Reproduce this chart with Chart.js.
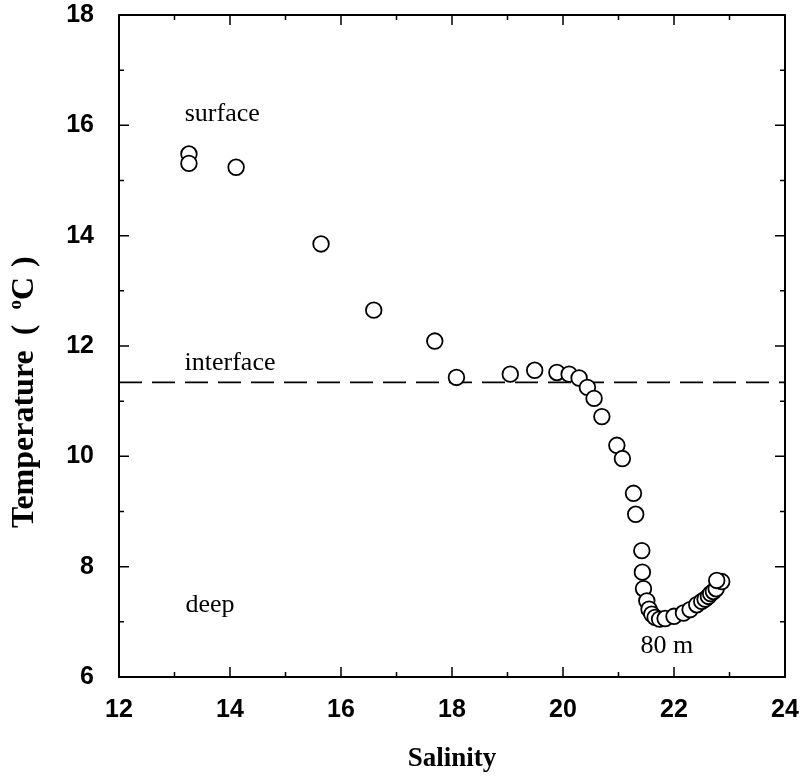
<!DOCTYPE html>
<html>
<head>
<meta charset="utf-8">
<script src="https://cdn.jsdelivr.net/npm/chart.js@4"></script>
<style>
  html, body { margin: 0; padding: 0; background: #fff; }
  canvas { display: block; }
</style>
</head>
<body>
<canvas id="tsChart" width="802" height="778"></canvas>
<script>
// T-S profile, surface to 80 m
const salinity = [13.26, 13.26, 14.11, 15.64, 16.59, 17.69, 18.08, 19.05, 19.49, 19.89,
    20.11, 20.29, 20.44, 20.56, 20.70, 20.97, 21.07, 21.27, 21.31, 21.42,
    21.43, 21.45, 21.51, 21.55, 21.60, 21.66, 21.74, 21.84, 22.00, 22.17,
    22.29, 22.41, 22.50, 22.56, 22.62, 22.66, 22.71, 22.76, 22.86, 22.77];
const temperature = [15.48, 15.31, 15.24, 13.85, 12.65, 12.09, 11.43, 11.49, 11.56, 11.52,
    11.49, 11.42, 11.25, 11.05, 10.72, 10.20, 9.96, 9.33, 8.95, 8.29,
    7.90, 7.60, 7.38, 7.23, 7.14, 7.08, 7.05, 7.06, 7.10, 7.16,
    7.22, 7.31, 7.37, 7.41, 7.46, 7.51, 7.55, 7.60, 7.73, 7.75];

const interfaceTemp = 11.34;
const xRange = [12, 24];
const yRange = [6, 18];

const noteText = ['surface', 'interface', 'deep', '80 m'];
const noteX = [13.86, 14.0, 13.64, 21.87];
const noteY = [16.2, 11.69, 7.3, 6.55];

const points = salinity.map((s, i) => ({ x: s, y: temperature[i] }));

// y title drawn by hand so the degree sign can sit as a superscript "o"
function drawYTitle(ctx) {
    const big = 'bold 32px "Liberation Serif"';
    const small = 'bold 19px "Liberation Serif"';
    ctx.save();
    ctx.translate(33, 528);
    ctx.rotate(-Math.PI / 2);
    ctx.fillStyle = '#000';
    ctx.textBaseline = 'alphabetic';
    ctx.textAlign = 'left';
    let pos = 0;
    ctx.font = big;
    ctx.fillText('Temperature', pos, 0);
    pos += ctx.measureText('Temperature').width + 15;
    ctx.fillText('(', pos, 0);
    pos += ctx.measureText('(').width + 15;
    ctx.font = small;
    ctx.fillText('o', pos, -12);
    pos += ctx.measureText('o').width;
    ctx.font = big;
    ctx.fillText('C', pos, 0);
    pos += ctx.measureText('C').width + 10;
    ctx.fillText(')', pos, 0);
    ctx.restore();
}

// frame, inward ticks on all sides, text notes
const framePlugin = {
    id: 'frame',
    afterDraw(chart) {
        const { ctx, chartArea: a, scales: { x, y } } = chart;
        ctx.save();
        ctx.strokeStyle = '#000';
        ctx.lineWidth = 2;
        ctx.strokeRect(a.left, a.top, a.right - a.left, a.bottom - a.top);

        ctx.lineWidth = 1.5;
        ctx.beginPath();
        for (let v = xRange[0] + 1; v < xRange[1]; v++) {
            const len = v % 2 === 0 ? 10 : 5;
            const px = x.getPixelForValue(v);
            ctx.moveTo(px, a.bottom); ctx.lineTo(px, a.bottom - len);
            ctx.moveTo(px, a.top); ctx.lineTo(px, a.top + len);
        }
        for (let v = yRange[0] + 1; v < yRange[1]; v++) {
            const len = v % 2 === 0 ? 10 : 5;
            const py = y.getPixelForValue(v);
            ctx.moveTo(a.left, py); ctx.lineTo(a.left + len, py);
            ctx.moveTo(a.right, py); ctx.lineTo(a.right - len, py);
        }
        ctx.stroke();

        ctx.fillStyle = '#000';
        ctx.font = '26px "Liberation Serif"';
        ctx.textAlign = 'center';
        ctx.textBaseline = 'middle';
        noteText.forEach((t, i) => {
            ctx.fillText(t, x.getPixelForValue(noteX[i]), y.getPixelForValue(noteY[i]));
        });
        ctx.restore();

        drawYTitle(ctx);
    }
};

function noPad(scale) {
    scale.paddingLeft = 0;
    scale.paddingRight = 0;
    scale.paddingTop = 0;
    scale.paddingBottom = 0;
}

new Chart(document.getElementById('tsChart'), {
    type: 'scatter',
    data: {
        datasets: [
            {
                type: 'line',
                data: [{ x: xRange[0], y: interfaceTemp }, { x: xRange[1], y: interfaceTemp }],
                borderColor: '#000',
                borderWidth: 1.6,
                borderDash: [23, 10],
                pointRadius: 0,
                fill: false,
                order: 2
            },
            {
                data: points,
                pointStyle: 'circle',
                pointRadius: 7.8,
                pointBorderWidth: 1.8,
                pointBackgroundColor: '#fff',
                pointBorderColor: '#000',
                showLine: false,
                order: 1
            }
        ]
    },
    options: {
        responsive: false,
        animation: false,
        layout: { padding: { top: 15, right: 17, left: 0, bottom: 0 } },
        plugins: {
            legend: { display: false },
            tooltip: { enabled: false }
        },
        scales: {
            x: {
                type: 'linear',
                min: xRange[0], max: xRange[1],
                grid: { display: false },
                border: { display: false },
                ticks: {
                    stepSize: 2,
                    color: '#000',
                    padding: 10,
                    font: { family: '"Liberation Sans"', size: 25, weight: 'bold' }
                },
                title: {
                    display: true,
                    text: 'Salinity',
                    color: '#000',
                    padding: { top: 0, bottom: 5 },
                    font: { family: '"Liberation Serif"', size: 27, weight: 'bold', lineHeight: 1 }
                },
                afterFit(scale) { scale.height = 101; noPad(scale); }
            },
            y: {
                type: 'linear',
                min: yRange[0], max: yRange[1],
                grid: { display: false },
                border: { display: false },
                ticks: {
                    stepSize: 2,
                    color: '#000',
                    padding: 17,
                    font: { family: '"Liberation Sans"', size: 25, weight: 'bold' }
                },
                afterFit(scale) { scale.width = 119; noPad(scale); }
            }
        }
    },
    plugins: [framePlugin]
});
</script>
</body>
</html>
